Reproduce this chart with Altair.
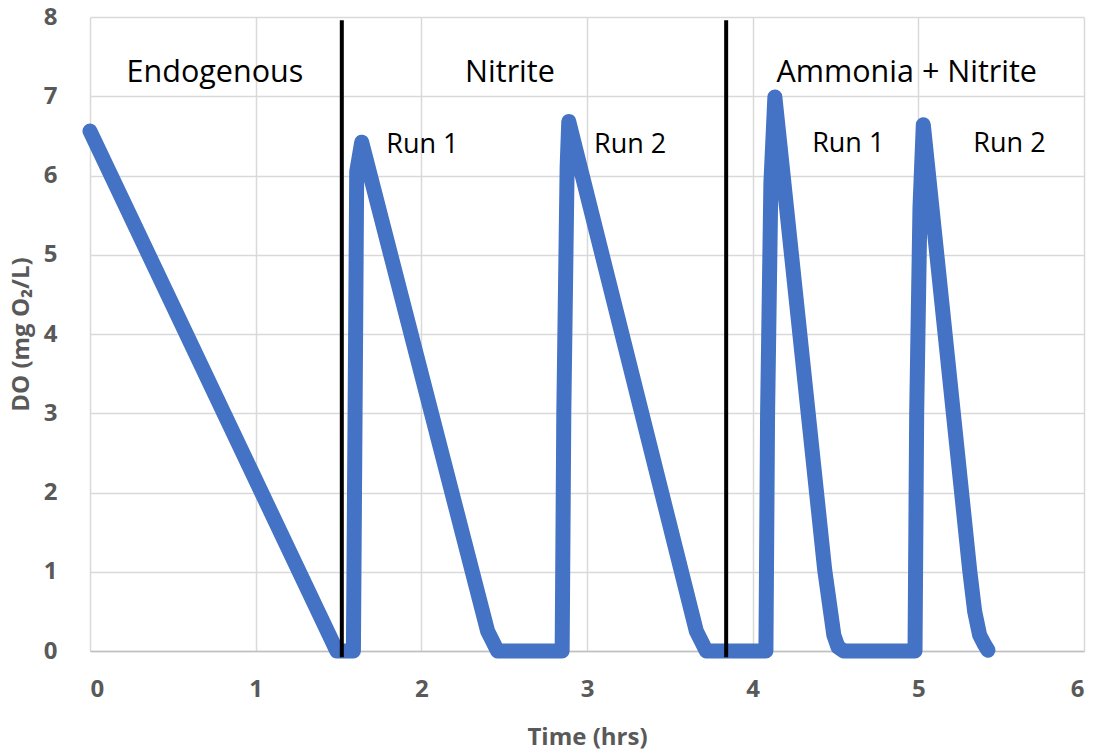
import altair as alt
import pandas as pd

# ---- data ----
time_hrs = [0.00, 1.49, 1.59, 1.60, 1.61, 1.64, 2.40, 2.46,
            2.85, 2.86, 2.88, 2.89, 3.66, 3.72,
            4.08, 4.09, 4.11, 4.134, 4.435, 4.47, 4.49, 4.515, 4.55,
            4.98, 4.99, 5.01, 5.03, 5.31, 5.34, 5.37, 5.40, 5.42]
do_mg = [6.56, 0.00, 0.00, 3.00, 6.05, 6.42, 0.25, 0.00,
         0.00, 3.00, 6.10, 6.68, 0.25, 0.00,
         0.00, 3.00, 5.90, 6.99, 1.02, 0.50, 0.20, 0.05, 0.00,
         0.00, 3.00, 5.60, 6.64, 1.02, 0.50, 0.20, 0.08, 0.01]

boundary_x = [1.52, 3.84]
boundary_top = [7.96, 7.96]
boundary_bottom = [-0.08, -0.08]

section_labels = ["Endogenous", "Nitrite", "Ammonia + Nitrite"]
section_x = [0.754, 2.535, 4.93]
section_y = [7.18, 7.18, 7.18]

run_labels = ["Run 1", "Run 2", "Run 1", "Run 2"]
run_x = [2.006, 3.26, 4.577, 5.55]
run_y = [6.28, 6.28, 6.30, 6.30]

x_ticks = [0, 1, 2, 3, 4, 5, 6]
y_ticks = [0, 1, 2, 3, 4, 5, 6, 7, 8]

# ---- tables ----
line_df = pd.DataFrame({"x": time_hrs, "y": do_mg, "i": list(range(len(time_hrs)))})
rule_df = pd.DataFrame({"x": boundary_x, "y": boundary_top, "y2": boundary_bottom})
sec_df = pd.DataFrame({"x": section_x, "y": section_y, "label": section_labels})
run_df = pd.DataFrame({"x": run_x, "y": run_y, "label": run_labels})

xs = alt.Scale(domain=[0, 6], nice=False, zero=False)
ys = alt.Scale(domain=[0, 8], nice=False, zero=False)

x_enc = alt.X("x:Q", scale=xs, axis=alt.Axis(title="Time (hrs)", values=x_ticks, format="d",
                                              labelPadding=26, titlePadding=24, domain=True,
                                              domainColor="#bfbfbf", domainWidth=1.5))
y_enc = alt.Y("y:Q", scale=ys, axis=alt.Axis(title="DO (mg O₂/L)", values=y_ticks, format="d",
                                              labelPadding=33, titlePadding=10, domain=False))

line = alt.Chart(line_df).mark_line(
    color="#4472C4", strokeWidth=15, strokeCap="round", strokeJoin="round"
).encode(x=x_enc, y=y_enc, order="i:Q")

rules = alt.Chart(rule_df).mark_rule(color="black", strokeWidth=4).encode(
    x=x_enc, y=y_enc, y2="y2:Q")

sections = alt.Chart(sec_df).mark_text(
    font="Open Sans", fontSize=30.5, color="black", align="center", baseline="alphabetic"
).encode(x=x_enc, y=y_enc, text="label:N")

runs = alt.Chart(run_df).mark_text(
    font="Open Sans", fontSize=27, color="black", align="center", baseline="alphabetic"
).encode(x=x_enc, y=y_enc, text="label:N")

chart = alt.layer(line, rules, sections, runs).properties(
    width=994, height=634,
    autosize=alt.AutoSizeParams(type="none"),
    padding={"left": 90, "top": 17, "right": 10, "bottom": 100},
    background="white",
).configure_view(stroke=None).configure_axis(
    grid=True, gridColor="#d9d9d9", gridWidth=1.5, ticks=False,
    labelFont="Open Sans", labelFontWeight="bold", labelFontSize=24, labelColor="#595959",
    titleFont="Open Sans", titleFontWeight="bold", titleFontSize=24, titleColor="#595959",
)

chart.save("out.html", embed_options={"renderer": "svg", "actions": False})
